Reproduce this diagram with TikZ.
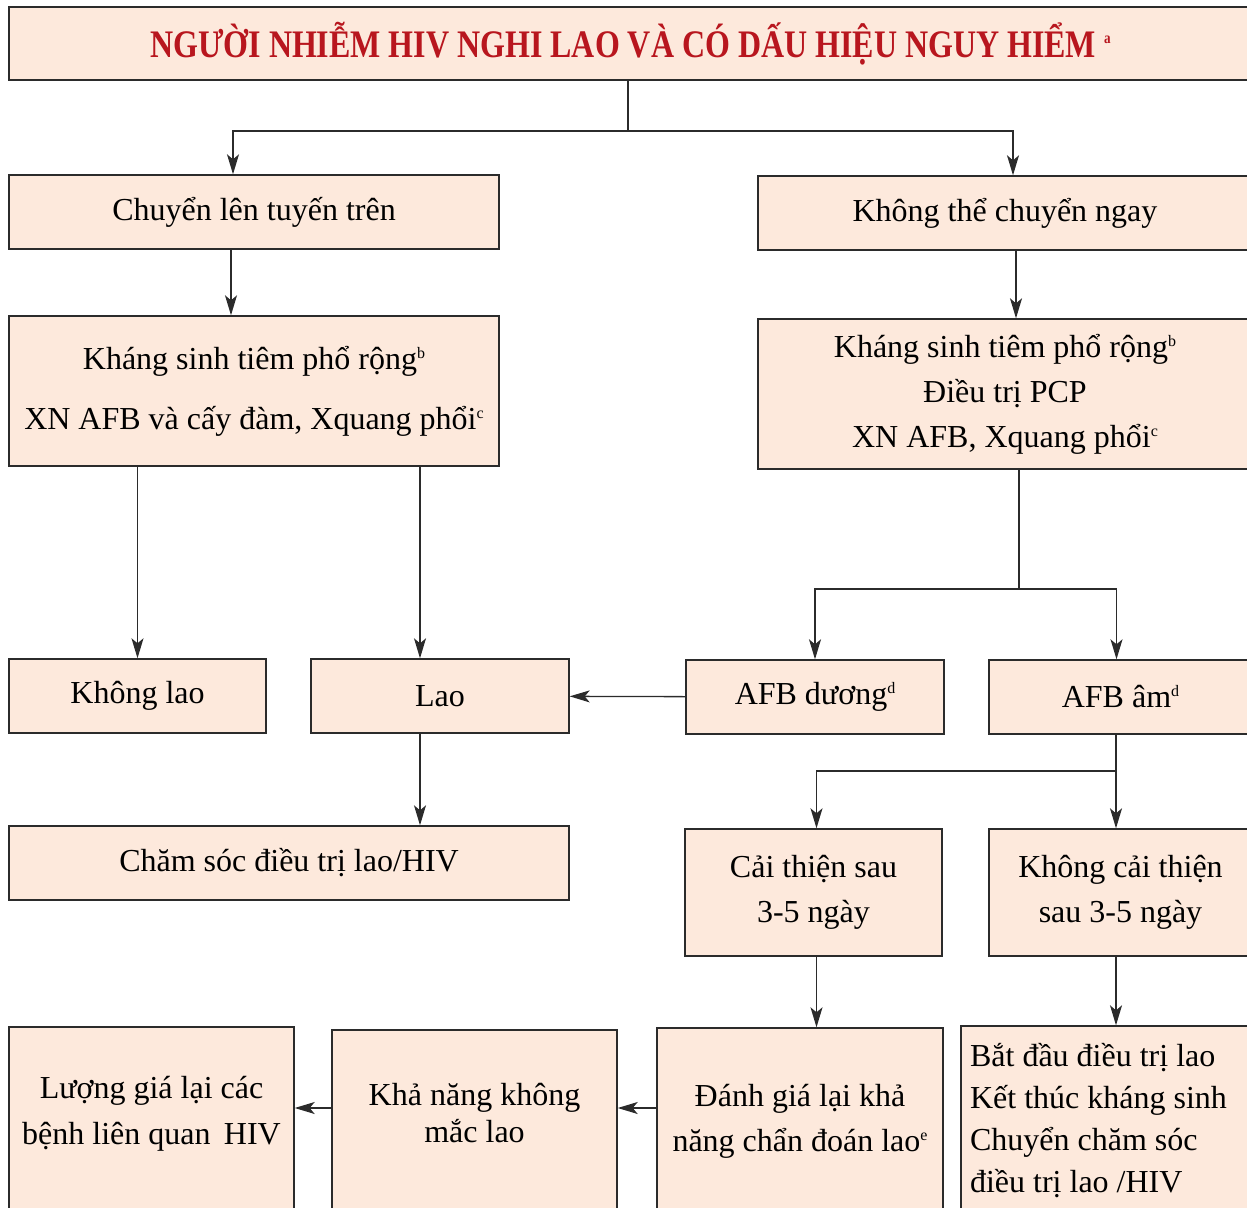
\documentclass[tikz,border=0pt]{standalone}
\usepackage{fontspec}
\setmainfont{Liberation Serif}
\newfontfamily\titlefont[FakeStretch=0.82]{Liberation Serif}
\usetikzlibrary{arrows.meta}
\definecolor{boxfill}{HTML}{FDE9DC}
\definecolor{boxline}{HTML}{2B2B2B}
\definecolor{titlered}{HTML}{B8161E}
\newcommand{\supmark}[1]{\raisebox{0.75ex}{\fontsize{8}{8}\selectfont #1}}

\begin{document}
\begin{tikzpicture}[
    x=0.5pt, y=-0.5pt,
    box/.style={rectangle,draw=boxline,line width=0.7pt,fill=boxfill,inner sep=0pt,
        align=center,font=\fontsize{16}{22.5}\selectfont},
    sz/.style 2 args={minimum width=#1*0.5pt,minimum height=#2*0.5pt},
    arr/.style={draw=boxline,line width=0.65pt,-{Stealth[length=10pt,width=6pt,inset=2.5pt]}},
    ln/.style={draw=boxline,line width=0.65pt}
]
    \useasboundingbox (0,0) rectangle (1247,1208);
    \clip (0,0) rectangle (1247,1208);

    % boxes
    \node[box,sz={1243}{73}] (title) at (630.5,43.5)
        {\titlefont\bfseries\fontsize{19.5}{22}\selectfont\color{titlered}%
         NGƯỜI NHIỄM HIV NGHI LAO VÀ CÓ DẤU HIỆU NGUY HIỂM \supmark{a}};
    \node[box,sz={490}{74}] (up) at (254,212) {Chuyển lên tuyến trên};
    \node[box,sz={494}{74}] (now) at (1005,213) {Không thể chuyển ngay};
    \node[box,sz={490}{150},font=\fontsize{16}{30}\selectfont] (ks1) at (254,391)
        {Kháng sinh tiêm phổ rộng\supmark{b}\\XN AFB và cấy đàm, Xquang phổi\supmark{c}};
    \node[box,sz={494}{150}] (ks2) at (1005,394)
        {Kháng sinh tiêm phổ rộng\supmark{b}\\Điều trị PCP\\XN AFB, Xquang phổi\supmark{c}};
    \node[box,sz={257}{74}] (nolao) at (137.5,696) {Không lao};
    \node[box,sz={258}{74}] (lao) at (440,696) {Lao};
    \node[box,sz={258}{74}] (afbpos) at (815,697) {AFB dương\supmark{d}};
    \node[box,sz={263}{74}] (afbneg) at (1120.5,697) {AFB âm\supmark{d}};
    \node[box,sz={560}{74}] (care) at (289,863) {Chăm sóc điều trị lao/HIV};
    \node[box,sz={257}{127}] (improve) at (813.5,892.5) {Cải thiện sau\\3-5 ngày};
    \node[box,sz={263}{127}] (noimp) at (1120.5,892.5) {Không cải thiện\\sau 3-5 ngày};
    \node[box,sz={286}{187}] (reeval) at (800,1121.5)
        {Đánh giá lại khả\\năng chẩn đoán lao\supmark{e}};
    \node[box,sz={291}{189},align=left,font=\fontsize{16}{21}\selectfont] (start) at (1106.5,1120.5)
        {\hspace*{-8pt}Bắt đầu điều trị lao\\\hspace*{-8pt}Kết thúc kháng sinh\\\hspace*{-8pt}Chuyển chăm sóc\\\hspace*{-8pt}điều trị lao /HIV};
    \node[box,sz={285}{185}] (nottb) at (474.5,1122.5)
        {\raisebox{4pt}[\height][\depth]{\begin{tabular}{@{}c@{}}Khả năng không\\[-4pt]mắc lao\end{tabular}}};
    \node[box,sz={285}{188}] (review) at (151.5,1121)
        {\raisebox{4.5pt}[\height][\depth]{\begin{tabular}{@{}c@{}}Lượng giá lại các\\[0.5pt]bệnh liên quan\,\ HIV\end{tabular}}};

    % junctions
    \coordinate (j1) at (628,131);
    \coordinate (j2) at (1019,589);
    \coordinate (j3) at (1116,771);
    \coordinate (j4) at (0,1108);

    % connectors
    \draw[ln] (title.south -| j1) -- (j1);
    \draw[arr] (j1) -| ([xshift=-10.5pt]up.north);
    \draw[arr] (j1) -| ([xshift=4pt]now.north);
    \draw[arr] ([xshift=-11.5pt]up.south) -- ([xshift=-11.5pt]ks1.north);
    \draw[arr] ([xshift=5.5pt]now.south) -- ([xshift=5.5pt]ks2.north);
    \draw[arr] (ks1.south -| nolao) -- (nolao);
    \draw[arr] ([xshift=-10pt]lao.north |- ks1.south) -- ([xshift=-10pt]lao.north);
    \draw[ln] (ks2.south -| j2) -- (j2);
    \draw[arr] (j2) -| (afbpos);
    \draw[arr] (j2) -| ([xshift=-2pt]afbneg.north);
    \draw[arr] (afbpos) -- (lao);
    \draw[arr] ([xshift=-10pt]lao.south) -- ([xshift=-10pt]care.north -| lao.south);
    \draw[ln] (afbneg.south -| j3) -- (j3);
    \draw[arr] (j3) -| ([xshift=1.5pt]improve.north);
    \draw[arr] (j3) -- (noimp.north -| j3);
    \draw[arr] ([xshift=1.5pt]improve.south) -- ([xshift=1.5pt]improve.south |- reeval.north);
    \draw[arr] (noimp.south -| j3) -- (start.north -| j3);
    \draw[arr] (reeval.west |- j4) -- (nottb.east |- j4);
    \draw[arr] (nottb.west |- j4) -- (review.east |- j4);
\end{tikzpicture}
\end{document}
